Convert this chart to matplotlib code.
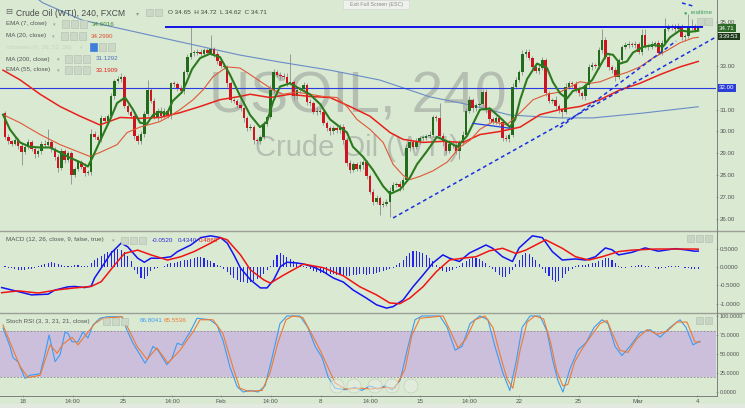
import numpy as np
import matplotlib
matplotlib.use('Agg')
import matplotlib.pyplot as plt
from matplotlib.patches import Rectangle, Circle
from matplotlib.lines import Line2D
from matplotlib.transforms import IdentityTransform

plt.rcParams['font.family'] = ['Liberation Sans', 'DejaVu Sans']

W, H = 745, 408
BG = '#d9e9d2'

# ---- USOIL 240 min bars (bar index = 4h bar) ----
first_open = 30.85
closes = [
    29.75, 29.55, 29.45, 29.60, 29.35, 29.05, 29.30, 29.50, 29.20, 28.95,
    29.10, 29.45, 29.40, 29.50, 29.20, 28.85, 28.35, 29.10, 28.70, 29.00,
    28.00, 28.30, 28.60, 28.40, 28.10, 28.15, 29.90, 29.75, 29.60, 30.60,
    30.50, 30.70, 31.60, 32.30, 32.40, 32.50, 31.15, 30.90, 30.70, 29.80,
    29.55, 29.90, 30.80, 31.90, 31.40, 30.65, 30.95, 30.70, 30.95, 30.70,
    32.20, 32.15, 32.00, 31.85, 32.70, 33.40, 33.60, 33.60, 33.65, 33.55,
    33.70, 33.60, 33.75, 33.55, 33.20, 33.00, 32.95, 32.20, 31.45, 31.40,
    31.20, 31.05, 30.60, 30.15, 30.20, 29.60, 29.55, 29.75, 30.35, 30.65,
    31.90, 32.70, 32.60, 32.55, 32.50, 32.20, 32.25, 31.60, 31.90, 31.95,
    32.10, 31.35, 31.30, 30.90, 30.95, 30.90, 30.40, 30.15, 30.00, 30.15,
    30.05, 30.20, 29.60, 28.55, 28.25, 28.50, 28.30, 28.45, 28.60, 27.95,
    27.25, 26.80, 26.95, 26.65, 26.70, 26.80, 27.30, 27.55, 27.60, 27.45,
    27.80, 29.25, 29.50, 29.30, 29.55, 29.70, 29.70, 29.80, 29.85, 30.65,
    30.60, 29.80, 29.50, 29.10, 29.45, 29.40, 29.10, 29.50, 29.85, 30.95,
    31.45, 31.05, 31.20, 31.25, 31.80, 31.00, 30.55, 30.45, 30.60, 30.45,
    29.70, 29.65, 29.85, 32.05, 32.35, 32.70, 33.55, 33.65, 33.35, 32.95,
    32.75, 32.90, 33.25, 31.75, 31.40, 31.45, 31.15, 30.98, 30.90, 32.05,
    32.20, 32.15, 31.95, 31.75, 31.60, 32.10, 32.95, 33.05, 33.00, 33.70,
    34.20, 33.40, 32.95, 32.80, 32.50, 33.25, 33.85, 33.95, 34.00, 33.95,
    34.00, 33.65, 34.40, 33.90, 33.85, 34.00, 34.05, 33.60, 34.05, 34.70,
    34.75, 34.80, 34.70, 34.80, 34.30, 34.35, 34.75, 34.80, 34.65, 34.71,
]
# wick lengths above / below the body
up_wick = [
    .1, .12, .08, .15, .1, .12, .1, .15, .1, .08,
    .12, .1, .15, .6, .1, .08, .12, .15, .1, .12,
    .1, .08, .12, .1, .15, .1, .2, .12, .1, .15,
    .12, .1, .15, .1, .12, .15, .1, .12, .1, .08,
    .1, .12, .15, .45, .1, .12, .1, .15, .1, .12,
    .08, .12, .1, .1, .12, .15, 1.15, .1, .12, .1,
    .12, .1, .65, .1, .12, .1, .15, .1, .12, .1,
    .1, .12, .08, .1, .15, .1, .12, .1, .15, .1,
    .2, .15, .1, .12, .1, .15, 1.3, .1, .12, .1,
    .15, .1, .12, .1, .15, .1, .12, .1, .1, .12,
    .1, .15, .12, .1, .15, .1, .12, .2, .1, .12,
    .1, .12, .15, .1, .12, .1, .15, .12, .1, .12,
    .1, .2, .12, .1, .15, .1, .12, .1, .15, .12,
    .1, .7, .12, .1, .15, .1, .12, .1, .15, .12,
    .15, .1, .12, .1, .15, .12, .1, .12, .1, .15,
    .1, .12, .1, .15, .12, .1, .15, .12, .1, .12,
    .1, .12, .15, .1, .12, .1, .15, .12, .1, .15,
    .12, .1, .15, .1, .12, .1, .15, .12, .1, .15,
    .5, .1, .12, .1, .15, .12, .1, .15, .12, .1,
    .12, .1, .3, .3, .1, .12, .1, .15, .12, .47,
    .15, .12, .1, .15, .1, .12, .6, .35, .1, .01,
]
dn_wick = [
    .1, .12, .1, .08, .15, .6, .1, .12, .1, .15,
    .1, .12, .1, .08, .12, .15, .2, .1, .12, .1,
    .4, .1, .12, .1, .15, .1, .12, .1, .15, .1,
    .12, .1, .1, .12, .1, .15, .1, .12, .1, .15,
    .12, .1, .15, .1, .12, .1, .15, .12, .1, .1,
    .12, .1, .15, .1, .12, .1, .1, .15, .1, .12,
    .1, .12, .1, .15, .1, .12, .1, .15, .12, .1,
    .12, .1, .15, .12, .1, .15, .12, .1, .1, .12,
    .1, .12, .1, .15, .1, .12, .1, .15, .1, .12,
    .1, .15, .12, .1, .15, .12, .1, .12, .15, .1,
    .12, .1, .15, .12, .15, .1, .12, .1, .15, .12,
    .12, .15, .1, .45, .12, .1, .7, .12, .1, .15,
    .12, .1, .15, .12, .1, .12, .15, .1, .12, .1,
    .12, .1, .15, .12, .1, .15, .12, .35, .1, .12,
    .1, .15, .12, .1, .12, .15, .1, .12, .1, .15,
    .12, .1, .15, .1, .12, .1, .12, .15, .1, .12,
    .1, .12, .1, .15, .12, .1, .12, .15, .3, .1,
    .12, .1, .15, .12, .1, .15, .1, .12, .1, .15,
    .12, .1, .15, .12, .2, .1, .12, .1, .15, .1,
    .12, .1, .15, .1, .12, .1, .15, .1, .12, .1,
    .12, .1, .15, .12, .1, .15, .1, .12, .1, .03,
]

# overlay lines, (bar, value) pairs
ema7_x = [-0.6, 1.5, 4.5, 7.5, 10.6, 13.6, 16.6, 19.6, 22.6, 25.0, 26.5, 28.6, 31.7, 33.8,
          36.2, 38.6, 40.7, 42.8, 44.6, 46.7, 48.8, 50.6, 53.4, 54.9, 56.4, 58.8, 61.8, 64.8,
          67.8, 70.8, 73.9, 76.9, 79.0, 80.8, 82.9, 85.9, 88.9, 91.9, 95.0, 98.0, 101.0, 103.1,
          104.9, 107.9, 110.9, 114.0, 116.1, 119.1, 122.1, 124.2, 127.2, 130.2, 133.3, 136.3,
          139.3, 143.2, 146.2, 149.2, 152.2, 153.8, 155.3, 157.4, 160.4, 163.4, 165.2, 167.3,
          169.4, 171.2, 174.3, 177.0, 179.4, 181.5, 183.3, 185.4, 187.5, 189.3, 192.3, 195.4,
          198.4, 200.5, 203.5, 206.5, 209.0]
ema7_y = [30.77, 30.09, 29.50, 29.30, 29.27, 29.27, 29.04, 28.80, 28.60, 28.40, 28.85, 29.55,
          30.55, 31.30, 31.55, 31.00, 30.40, 30.35, 30.75, 30.90, 30.80, 31.40, 31.80, 32.30,
          32.85, 33.35, 33.55, 33.40, 32.60, 31.65, 30.75, 30.20, 30.45, 31.35, 32.05, 32.20,
          31.95, 31.70, 31.25, 30.55, 30.20, 29.95, 29.30, 28.85, 28.25, 27.50, 27.15, 27.35,
          27.90, 28.50, 29.10, 29.75, 29.55, 29.30, 29.80, 31.00, 31.05, 30.64, 30.20, 30.55,
          31.45, 32.40, 33.10, 32.90, 32.25, 31.75, 31.50, 31.85, 32.00, 32.35, 33.00, 33.55,
          33.50, 33.10, 33.20, 33.60, 33.86, 33.95, 33.88, 34.30, 34.62, 34.55, 34.60]
ma20_x = [-0.6, 4.5, 10.6, 16.6, 22.6, 25.6, 28.6, 33.8, 36.8, 40.7, 46.7, 49.7, 52.8, 56.7,
          59.7, 62.7, 66.9, 70.8, 73.9, 77.8, 80.8, 83.8, 88.0, 91.9, 95.9, 100.1, 103.1, 106.1,
          110.0, 114.0, 117.0, 120.0, 122.1, 125.1, 129.0, 133.3, 137.2, 140.2, 143.2, 147.1,
          151.3, 155.3, 159.2, 163.4, 167.3, 171.2, 173.3, 176.4, 179.4, 183.3, 187.5, 191.4,
          195.4, 199.6, 203.5, 207.4, 209.0]
ma20_y = [30.77, 30.40, 29.86, 29.40, 29.04, 28.86, 29.04, 29.40, 29.95, 30.20, 30.45, 30.70,
          31.00, 31.45, 31.90, 32.50, 32.95, 32.90, 32.60, 32.20, 31.90, 31.70, 31.80, 31.70,
          31.60, 31.55, 31.14, 30.55, 30.10, 29.50, 28.50, 28.00, 27.80, 27.95, 28.20, 28.60,
          29.30, 29.60, 30.10, 30.45, 30.30, 30.86, 31.45, 31.70, 31.80, 32.10, 32.27, 32.20,
          32.27, 32.50, 32.70, 32.95, 33.36, 33.70, 34.05, 34.27, 34.30]
ema55_x = [-0.6, 4.5, 10.6, 16.6, 22.6, 28.6, 34.7, 40.7, 46.7, 52.8, 58.8, 64.8, 70.8, 73.9,
           79.9, 85.9, 91.9, 98.0, 104.0, 110.0, 116.1, 120.0, 126.0, 132.0, 138.1, 143.2,
           149.2, 155.3, 161.3, 167.3, 173.3, 179.4, 185.4, 191.4, 197.5, 203.5, 209.0]
ema55_y = [32.80, 32.36, 31.70, 31.14, 30.70, 30.30, 30.64, 30.60, 30.64, 30.86, 31.14, 31.45,
           31.60, 31.70, 31.55, 31.70, 31.60, 31.55, 31.14, 30.70, 29.95, 29.64, 29.50, 29.55,
           29.50, 29.86, 30.00, 30.20, 30.77, 31.00, 31.14, 31.45, 31.90, 32.20, 32.60, 32.95,
           33.20]
ma200_x = [7.5, 11.5, 23.2, 40.7, 70.8, 82.9, 98.0, 113.0, 128.1, 140.2, 152.2, 167.3, 177.3,
           192.3, 209.0]
ma200_y = [36.30, 35.87, 35.09, 34.50, 33.49, 33.17, 32.80, 32.35, 31.58, 31.21, 30.75, 30.62,
           30.62, 30.84, 31.13]

# MACD (12, 26, close, 9)
macd_x = [-1, 4, 8, 13, 15, 19, 21, 24, 26, 27, 29, 32, 35, 37, 40, 42, 44, 47, 50, 52, 56,
          59, 62, 65, 67, 69, 71, 74, 77, 79, 81, 83, 85, 88, 90, 93, 96, 99, 102, 105, 109,
          112, 115, 117, 120, 123, 126, 129, 132, 134, 137, 140, 145, 147, 150, 153, 155, 159,
          162, 165, 168, 172, 175, 178, 181, 183, 185, 189, 193, 197, 202, 205, 208, 209]
macd_y = [-0.56, -0.67, -0.76, -0.74, -0.63, -0.54, -0.53, -0.56, -0.52, -0.30, -0.03, 0.38,
          0.65, 0.55, 0.24, 0.13, 0.24, 0.24, 0.28, 0.42, 0.60, 0.80, 0.85, 0.80, 0.65, 0.33,
          -0.03, -0.35, -0.57, -0.57, -0.35, 0.01, 0.13, 0.11, 0.08, 0.00, -0.13, -0.30, -0.41,
          -0.63, -0.85, -1.03, -1.12, -1.08, -0.90, -0.54, -0.22, 0.11, 0.33, 0.24, 0.15, 0.38,
          0.60, 0.51, 0.28, 0.15, 0.52, 0.85, 0.80, 0.42, 0.19, 0.22, 0.19, 0.28, 0.52, 0.47,
          0.33, 0.40, 0.52, 0.43, 0.50, 0.47, 0.43, 0.434]
signal_x = [-1, 4, 10, 16, 21, 26, 29, 33, 36, 40, 44, 49, 53, 57, 62, 65, 67, 71, 74, 78, 80,
            84, 90, 96, 102, 107, 112, 116, 119, 122, 126, 130, 134, 138, 142, 146, 150, 154,
            157, 163, 168, 172, 176, 180, 185, 189, 196, 202, 208, 209]
signal_y = [-0.70, -0.65, -0.71, -0.62, -0.57, -0.53, -0.40, 0.05, 0.37, 0.46, 0.33, 0.19,
            0.28, 0.42, 0.65, 0.80, 0.74, 0.33, -0.08, -0.35, -0.44, -0.22, 0.08, -0.02, -0.24,
            -0.54, -0.76, -0.98, -1.00, -0.85, -0.54, -0.13, 0.19, 0.24, 0.28, 0.44, 0.51, 0.37,
            0.46, 0.74, 0.51, 0.28, 0.19, 0.28, 0.42, 0.46, 0.49, 0.49, 0.49, 0.486]
hist = [
    0.02, -0.02, -0.04, -0.06, -0.08, -0.09, -0.08, -0.06, -0.05, -0.03,
    0.02, 0.05, 0.08, 0.12, 0.13, 0.10, 0.08, 0.06, 0.04, 0.03, 0.03,
    0.05, 0.05, 0.04, 0.02, 0.03,
    0.10, 0.18, 0.25, 0.30, 0.35, 0.40, 0.43, 0.46, 0.48, 0.45, 0.40, 0.30, 0.15,
    -0.08, -0.20, -0.30, -0.32, -0.25,
    -0.12, -0.06, -0.03, 0.00,
    0.04, 0.07, 0.10, 0.12, 0.14, 0.16, 0.18, 0.20, 0.22, 0.24, 0.26, 0.26, 0.24, 0.20,
    0.16, 0.12, 0.06, 0.02,
    -0.06, -0.14, -0.22, -0.30, -0.36, -0.40, -0.42, -0.43, -0.41, -0.38, -0.33, -0.26,
    -0.18, -0.09, 0.02,
    0.20, 0.32, 0.38, 0.33, 0.28, 0.22, 0.15, 0.10, 0.06, 0.03,
    -0.03, -0.06, -0.10, -0.13, -0.15, -0.17, -0.18, -0.20, -0.20, -0.21, -0.22, -0.24,
    -0.25, -0.24, -0.22, -0.22, -0.20, -0.20, -0.21, -0.20, -0.18, -0.16, -0.14, -0.12,
    -0.08, -0.05, -0.02,
    0.05, 0.12, 0.20, 0.30, 0.38, 0.43, 0.44, 0.42, 0.38, 0.32, 0.25, 0.15, 0.06,
    -0.04, -0.10, -0.14, -0.12, -0.08, -0.03,
    0.04, 0.10, 0.16, 0.22, 0.26, 0.25, 0.22, 0.16, 0.10, 0.04,
    -0.06, -0.14, -0.22, -0.28, -0.26, -0.18, -0.08,
    0.08, 0.20, 0.32, 0.38, 0.36, 0.28, 0.18, 0.08,
    -0.05, -0.15, -0.25, -0.35, -0.40, -0.38, -0.30, -0.20, -0.12, -0.05,
    0.02, 0.05, 0.05, 0.06, 0.08, 0.10, 0.12, 0.15, 0.20, 0.25, 0.24, 0.18, 0.10, 0.03,
    -0.02, -0.03, 0.01, 0.02, 0.04, 0.05, 0.06, 0.04, 0.02, 0.00, -0.03, -0.05, -0.04,
    -0.02, 0.02, 0.04, 0.03, 0.02, 0.00, -0.02, -0.04, -0.05, -0.05, -0.052,
]

# Stoch RSI (3, 3, 21, 21)
k_x = [-0.6, 1.5, 2.4, 3.9, 6.0, 7.5, 10.6, 12.1, 13.3, 15.1, 16.6, 18.1, 19.0, 20.2, 22.0,
       23.5, 25.0, 26.5, 28.6, 30.8, 35.3, 36.8, 38.6, 40.7, 42.2, 43.1, 44.6, 46.1, 48.8, 50.3,
       51.9, 53.4, 55.8, 57.9, 61.8, 63.9, 65.7, 67.8, 70.0, 71.8, 73.9, 76.3, 78.4, 80.5,
       82.9, 85.0, 88.9, 91.3, 93.5, 95.6, 97.4, 99.5, 102.5, 105.5, 107.6, 110.0, 112.5,
       114.6, 116.7, 119.1, 121.5, 123.6, 125.7, 131.1, 133.3, 135.7, 137.8, 140.2, 143.2,
       145.6, 147.7, 150.1, 152.2, 154.1, 155.9, 158.3, 161.3, 163.4, 165.2, 166.7, 168.2,
       170.3, 172.7, 175.2, 177.6, 180.0, 181.8, 183.9, 186.0, 188.4, 191.4, 194.5, 197.5,
       200.5, 203.5, 205.3, 207.4, 209.5]
k_y = [84, 60, 45, 40, 18, 22, 24, 51, 75, 40, 49, 79, 77, 66, 66, 79, 71, 88, 97, 99, 99, 81,
       64, 49, 38, 44, 60, 55, 36, 44, 64, 62, 79, 97, 95, 88, 68, 33, 7, 0, 2, 0, 8, 45, 90,
       100, 100, 85, 60, 45, 20, 5, 3, 6, 2, 8, 4, 8, 3, 15, 60, 95, 100, 100, 85, 55, 60, 90,
       100, 95, 60, 25, 2, 40, 85, 100, 100, 80, 40, 15, 0, 30, 55, 65, 85, 95, 90, 60, 48, 60,
       78, 82, 72, 85, 95, 85, 62, 66.8]
d_x = [-0.6, 2.4, 4.5, 6.9, 10.6, 13.6, 15.7, 17.5, 20.2, 22.0, 24.7, 27.1, 29.5, 35.3, 37.1,
       39.8, 42.8, 45.8, 49.1, 52.8, 56.7, 58.8, 62.7, 65.7, 68.9, 70.8, 73.3, 77.5, 79.9, 82.3,
       84.7, 86.8, 89.8, 92.6, 95.0, 97.1, 99.5, 102.5, 107.0, 110.6, 114.6, 117.6, 120.6,
       122.7, 125.1, 132.1, 134.5, 136.6, 139.0, 141.7, 144.7, 147.1, 149.2, 151.3, 153.1,
       155.3, 157.4, 159.8, 162.4, 164.5, 166.3, 168.2, 169.7, 171.8, 174.2, 176.9, 179.4,
       181.5, 183.3, 185.4, 187.8, 190.5, 193.6, 196.6, 199.6, 202.6, 205.6, 208.0, 209.5]
d_y = [88, 56, 34, 19, 22, 62, 51, 63, 72, 62, 77, 90, 97, 99, 84, 60, 43, 58, 38, 55, 79, 95,
       95, 77, 30, 5, 1, 2, 25, 65, 95, 100, 98, 75, 55, 35, 12, 4, 5, 4, 6, 5, 30, 75, 97, 100,
       78, 58, 70, 95, 100, 85, 50, 18, 5, 55, 92, 100, 96, 65, 28, 8, 10, 40, 58, 75, 90, 94,
       75, 55, 52, 70, 82, 76, 80, 92, 92, 66, 65.55]

# drawn objects: resistance, support trendlines
res_x = [48.2, 210.4]
res_y = [34.77, 34.77]
trend1_x = [117.0, 214.4]
trend1_y = [26.05, 34.32]
trend2_x = [167.3, 202.3]
trend2_y = [30.18, 34.13]
trend3_x = [204.1, 207.4]
trend3_y = [35.87, 35.73]
seg_x = [141.1, 152.2]
seg_y = [30.37, 30.15]

date_ticks = [5.4, 20.4, 35.5, 50.3, 65.1, 80.1, 95.2, 110.2, 125.0, 139.9, 155.0, 172.9, 190.8, 208.7]
date_labels = ['18', '14:00', '25', '14:00', 'Feb', '14:00', '8', '14:00', '15', '14:00', '22',
               '25', 'Mar', '4']
price_ticks = [26, 27, 28, 29, 30, 31, 33, 35]
macd_ticks = [0.5, 0.0, -0.5, -1.0]
stoch_ticks = [100, 75, 50, 25, 0]

# ---- figure ----
fig = plt.figure(figsize=(W / 100, H / 100), dpi=100, facecolor=BG)


def fx(x):
    return x / W


def fy(y):
    return 1 - y / H


def T(x, y, s, size=4.5, color='#555555', **kw):
    fig.text(fx(x), fy(y), s, fontsize=size, color=color, va='center', **kw)


def box(x, y, w, h, fc, ec='none', lw=0.5):
    fig.add_artist(Rectangle((fx(x), fy(y + h)), w / W, h / H, transform=fig.transFigure,
                             fc=fc, ec=ec, lw=lw))


def pxline(x0, y0, x1, y1, color, lw):
    fig.add_artist(Line2D([fx(x0), fx(x1)], [fy(y0), fy(y1)], transform=fig.transFigure,
                          color=color, lw=lw))


ax1 = fig.add_axes([0, fy(230), 716 / W, 230 / H])
ax2 = fig.add_axes([0, fy(312), 716 / W, 81 / H])
ax3 = fig.add_axes([0, fy(395), 716 / W, 82 / H])
for ax in (ax1, ax2, ax3):
    ax.set_facecolor(BG)
    ax.set_xlim(-1.507, 214.35)
    for s in ax.spines.values():
        s.set_visible(False)
    ax.yaxis.set_ticks_position('right')
    ax.tick_params(axis='y', direction='out', length=1.5, width=0.5, colors='#8a8a8a',
                   labelcolor='#555555', labelsize=4.4, pad=1.2)
ax3.tick_params(axis='y', labelsize=4.0, pad=1.0)
ax1.set_xticks([])
ax2.set_xticks([])
ax1.set_ylim(25.50, 36.005)
ax2.set_ylim(-1.226, 0.981)
ax3.set_ylim(-3.95, 103.9)

# watermark
ax1.text(fx(358), fy(98), 'USOIL, 240', transform=fig.transFigure, ha='center', va='center',
         fontsize=41, color='#808080', alpha=0.4, zorder=0.5)
ax1.text(fx(357), fy(148), 'Crude Oil (WTI)', transform=fig.transFigure, ha='center',
         va='center', fontsize=21, color='#808080', alpha=0.4, zorder=0.5)

# candles
c = np.array(closes)
o = np.r_[first_open, c[:-1]]
x = np.arange(len(c))
top = np.maximum(o, c)
bot = np.minimum(o, c)
hi = top + np.array(up_wick)
lo = bot - np.array(dn_wick)
up = c >= o
ax1.vlines(x, lo, hi, color='#8e8e8e', lw=0.6, zorder=2)
body = np.maximum(top - bot, 0.04)
ax1.bar(x[up], body[up], bottom=bot[up], width=0.74, color='#236b1c', lw=0, zorder=3)
ax1.bar(x[~up], body[~up], bottom=bot[~up], width=0.74, color='#cc1520', lw=0, zorder=3)

# moving averages
ax1.plot(ma200_x, ma200_y, color='#6a8cc6', lw=0.8, zorder=2.5)
ax1.plot(ema55_x, ema55_y, color='#e8211c', lw=1.1, zorder=4)
ax1.plot(ma20_x, ma20_y, color='#e0583a', lw=0.8, zorder=4)
ax1.plot(ema7_x, ema7_y, color='#2c7a1e', lw=1.5, zorder=4)

# drawings
ax1.axhline(32.0, color='#2a3be0', lw=0.8, zorder=2.6)
ax1.plot(res_x, res_y, color='#1212e6', lw=1.4, zorder=4, solid_capstyle='butt')
for tx, ty in ((trend1_x, trend1_y), (trend2_x, trend2_y), (trend3_x, trend3_y)):
    ax1.plot(tx, ty, color='#1c30e0', lw=1.1, dashes=(2.5, 2), zorder=4)
ax1.plot(seg_x, seg_y, color='#2040e0', lw=0.9, zorder=4)

ax1.set_yticks(price_ticks)
ax1.set_yticklabels(['%.2f' % v for v in price_ticks])
ytr = ax1.get_yaxis_transform()
ax1.text(1.004, 32.0, '32.00', transform=ytr, fontsize=4.4, color='white', va='center',
         ha='left', clip_on=False, bbox=dict(boxstyle='square,pad=0.25', fc='#2a3ed8', ec='none'))
ax1.text(1.004, 34.71, '34.71', transform=ytr, fontsize=4.4, color='white', va='center',
         ha='left', clip_on=False, bbox=dict(boxstyle='square,pad=0.25', fc='#2e6a28', ec='none'))
ax1.text(1.004, 34.34, '3:39:53', transform=ytr, fontsize=4.2, color='white', va='center',
         ha='left', clip_on=False, bbox=dict(boxstyle='square,pad=0.2', fc='#1e3a1b', ec='none'))

# MACD
ax2.bar(np.arange(len(hist)), hist, width=0.32, color='#2424ee', lw=0, zorder=2)
ax2.plot(macd_x, macd_y, color='#1414f0', lw=1.1, zorder=3)
ax2.plot(signal_x, signal_y, color='#f01414', lw=1.1, zorder=3)
ax2.set_yticks(macd_ticks)
ax2.set_yticklabels(['%.4f' % v for v in macd_ticks])

# Stoch RSI
ax3.axhspan(20, 80, color='#cbbfdc', lw=0, zorder=0.5)
ax3.axhline(80, color='#8a8a8a', lw=0.6, dashes=(2, 2), zorder=1)
ax3.axhline(20, color='#8a8a8a', lw=0.6, dashes=(2, 2), zorder=1)
ax3.plot(k_x, k_y, color='#3d9cf0', lw=0.8, zorder=3)
ax3.plot(d_x, d_y, color='#f07a30', lw=0.8, zorder=3)
ax3.set_yticks(stoch_ticks)
ax3.set_yticklabels(['%.4f' % v for v in stoch_ticks])
ax3.set_xticks(date_ticks)
ax3.set_xticklabels(date_labels)
ax3.tick_params(axis='x', direction='out', length=1.5, width=0.5, colors='#8a8a8a',
                labelcolor='#555555', labelsize=4.5, pad=1.2)

# zoom buttons in stoch pane
for cx in (337, 354, 375, 392, 411):
    fig.add_artist(Circle((cx, H - 386), 7, transform=IdentityTransform(), fc='#e6ede3',
                          ec='#b4bcb1', lw=0.5, alpha=0.55))

# pane frame lines
pxline(0, 230.5, 745, 230.5, '#9aa096', 1.0)
pxline(0, 312.5, 745, 312.5, '#9aa096', 1.0)
pxline(0, 395.5, 716, 395.5, '#7d7d7d', 0.7)
pxline(716.5, 0, 716.5, 395.5, '#7d7d7d', 0.7)
box(0, 404, 745, 4, '#e3e8e1')

# header & legend
T(5, 13, '\u229f', size=6, color='#666666')
T(16, 13, 'Crude Oil (WTI), 240, FXCM', size=6.2, color='#4a4a4a')
T(136, 13.5, '\u25be', size=4.5, color='#999999')
box(146, 9, 7, 7, '#ccd8c7', '#b8c4b3')
box(155, 9, 7, 7, '#ccd8c7', '#b8c4b3')
T(168, 13, 'O 34.65  H 34.72  L 34.62  C 34.71', size=4.6, color='#3a4d38')

legend_rows = [
    (24, 'EMA (7, close)', 53, 62, '34.6016', 92, '#3f8a2e'),
    (36, 'MA (20, close)', 52, 61, '34.2990', 91, '#e0502e'),
    (59, 'MA (200, close)', 57, 65, '31.1292', 96, '#4f72b8'),
    (70, 'EMA (55, close)', 57, 65, '33.1909', 96, '#e8201c'),
]
for ry, lab, ax_, bx, val, vx, vc in legend_rows:
    T(6, ry, lab, size=4.5, color='#555555')
    T(ax_, ry + 0.5, '\u25be', size=3.8, color='#a0a0a0')
    for k in range(3):
        box(bx + 9 * k, ry - 3.5, 7, 7, '#ccd8c7', '#b8c4b3')
    T(vx, ry, val, size=4.5, color=vc)
T(6, 47, 'Ichimoku (9, 26, 52, 26)', size=4.5, color='#c6d5c0')
T(80, 47.5, '\u25be', size=3.8, color='#c6d5c0')
box(90, 43.5, 7, 7, '#3f7fd9', '#3f7fd9')
box(99, 43.5, 7, 7, '#ccd8c7', '#b8c4b3')
box(108, 43.5, 7, 7, '#ccd8c7', '#b8c4b3')

# exit full screen tooltip
box(343, 0, 66, 8.5, '#eef1ec', '#d4d8d2')
T(376, 4.2, 'Exit Full Screen (ESC)', size=3.8, color='#8a8a8a', ha='center')

# realtime marker + pane buttons
T(684, 13, '\u25cf', size=4, color='#3f9f5f')
T(691, 13, 'realtime', size=4.5, color='#4a9f62')
for bx in (697, 705):
    box(bx, 18, 7, 7, '#c9d5c4', '#b8c4b3')
for bx in (687, 696, 705):
    box(bx, 235, 7, 7, '#c9d5c4', '#b8c4b3')
for bx in (696, 705):
    box(bx, 317, 7, 7, '#c9d5c4', '#b8c4b3')

# MACD header
T(6, 240, 'MACD (12, 26, close, 9, false, true)', size=4.5, color='#555555')
T(112, 240.5, '\u25be', size=3.8, color='#a0a0a0')
for k in range(3):
    box(121 + 9 * k, 236.5, 7, 7, '#ccd8c7', '#b8c4b3')
T(152, 240, '-0.0520', size=4.5, color='#2b2bd8')
T(178, 240, '0.4340', size=4.5, color='#2b2bd8')
T(199, 240, '0.4860', size=4.5, color='#e8201c')

# Stoch header
T(6, 321, 'Stoch RSI (3, 3, 21, 21, close)', size=4.5, color='#555555')
T(96, 321.5, '\u25be', size=3.8, color='#a0a0a0')
for k in range(3):
    box(103 + 9 * k, 317.5, 7, 7, '#ccd8c7', '#b8c4b3')
T(140, 321, '66.8041', size=4.5, color='#3d9cf0')
T(164, 321, '65.5536', size=4.5, color='#f07a30')

fig.savefig('out.png', dpi=100, facecolor=BG)
